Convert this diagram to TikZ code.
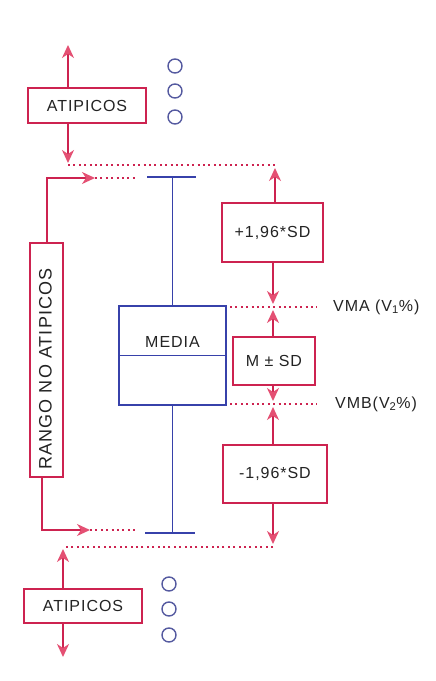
\documentclass[tikz,border=0pt]{standalone}
\usepackage{fontspec}
\setmainfont{Liberation Sans}[LetterSpace=6]
\usetikzlibrary{arrows.meta}
\definecolor{rd}{RGB}{205,35,80}
\definecolor{tipc}{RGB}{228,80,115}
\definecolor{bl}{RGB}{55,65,170}
\definecolor{cir}{RGB}{85,90,160}
\definecolor{txt}{RGB}{35,35,35}
\begin{document}
\begin{tikzpicture}[x=1pt,y=-1pt,
  rbox/.style={draw=rd,line width=1.8pt,fill=white,inner sep=0pt,text=txt,font=\fontsize{16}{18}\selectfont},
  txtn/.style={inner sep=0pt,text=txt,font=\fontsize{16}{18}\selectfont},
  arr/.style={draw=rd,line width=1.8pt,-{Stealth[length=13pt,width=12pt,inset=4pt,color=tipc,fill=tipc]}},
  dotl/.style={draw=rd,line width=2pt,dash pattern=on 2pt off 3.4pt},
  wh/.style={draw=bl,line width=1.6pt},
  circ/.style={circle,draw=cir,line width=1.4pt,minimum size=14pt,inner sep=0pt}]
\path[use as bounding box] (0,0) rectangle (436,681);

% boxes
\node[rbox,minimum width=118pt,minimum height=35pt] (atopT) at (87,105.5) {ATIPICOS};
\node[rbox,minimum width=118pt,minimum height=34pt] (atopB) at (83,606) {ATIPICOS};
\node[rbox,rotate=90,minimum width=234pt,minimum height=33pt] (rango) at (46.5,360) {};
\node[txtn,rotate=90,font=\fontsize{18}{20}\selectfont] (rangot) at (45.5,369) {RANGO NO ATIPICOS};
\node[rbox,minimum width=101pt,minimum height=59pt] (sdp) at (272.5,232.5) {+1,96*SD};
\node[rbox,minimum width=82pt,minimum height=48pt] (msd) at (274,361) {M ± SD};
\node[rbox,minimum width=104pt,minimum height=58pt] (sdm) at (275,474) {-1,96*SD};

% circles
\node[circ] (o1) at (175,66) {};
\node[circ] (o2) at (175,91) {};
\node[circ] (o3) at (175,117) {};
\node[circ] (o4) at (169,584) {};
\node[circ] (o5) at (169,609) {};
\node[circ] (o6) at (169,635) {};

% box plot
\node[draw=bl,line width=1.6pt,minimum width=107pt,minimum height=99pt,inner sep=0pt] (media) at (172.5,355.5) {};
\draw[wh] (media.west) -- (media.east);
\node[txtn] (medt) at (172.5,342) {MEDIA};
\coordinate (wT) at (172.5,177);
\coordinate (wTl) at (147,177);
\coordinate (wTr) at (196,177);
\coordinate (wB) at (172.5,533);
\coordinate (wBl) at (145,533);
\coordinate (wBr) at (195,533);
\draw[wh] (media.north) -- (wT);
\draw[wh] (wTl) -- (wTr);
\draw[wh] (media.south) -- (wB);
\draw[wh] (wBl) -- (wBr);

% top outliers
\coordinate (tA) at (68,45);
\coordinate (tB) at (68,163);
\coordinate (d1L) at (68,165);
\coordinate (d1R) at (277,165);
\coordinate (a1) at (275,168);
\draw[arr] (atopT.north -| tA) -- (tA);
\draw[arr] (atopT.south -| tB) -- (tB);
\draw[dotl] (d1L) -- (d1R);
\draw[arr] (sdp.north -| a1) -- (a1);

% rango connectors
\coordinate (rtc) at (47,178);
\coordinate (rtA) at (95,178);
\coordinate (rtD) at (138,178);
\draw[arr] (rango.east -| rtc) -- (rtc) -- (rtA);
\draw[dotl] (rtA) -- (rtD);
\coordinate (rbc) at (42,530);
\coordinate (rbA) at (90,530);
\coordinate (rbD) at (135,530);
\draw[arr] (rango.west -| rbc) -- (rbc) -- (rbA);
\draw[dotl] (rbA) -- (rbD);

% VMA / VMB
\coordinate (vmaL) at (230,307);
\coordinate (vmaR) at (317,307);
\coordinate (vmbL) at (230,404);
\coordinate (vmbR) at (317,404);
\draw[dotl] (vmaL) -- (vmaR);
\draw[dotl] (vmbL) -- (vmbR);
\node[txtn,anchor=west] (vma) at (333,307) {VMA (V\textsubscript{1}\%)};
\node[txtn,anchor=west] (vmb) at (335,404) {VMB(V\textsubscript{2}\%)};
\coordinate (a2) at (273,304);
\coordinate (a3) at (273,310);
\coordinate (a4) at (273,401);
\coordinate (a5) at (273,407);
\draw[arr] (sdp.south -| a2) -- (a2);
\draw[arr] (msd.north -| a3) -- (a3);
\draw[arr] (msd.south -| a4) -- (a4);
\draw[arr] (sdm.north -| a5) -- (a5);

% bottom outliers
\coordinate (a6) at (273,544);
\coordinate (d2R) at (273,547);
\coordinate (d2L) at (65,547);
\coordinate (bA) at (63,549);
\coordinate (bB) at (63,657);
\draw[arr] (sdm.south -| a6) -- (a6);
\draw[dotl] (d2R) -- (d2L);
\draw[arr] (atopB.north -| bA) -- (bA);
\draw[arr] (atopB.south -| bB) -- (bB);
\end{tikzpicture}
\end{document}
